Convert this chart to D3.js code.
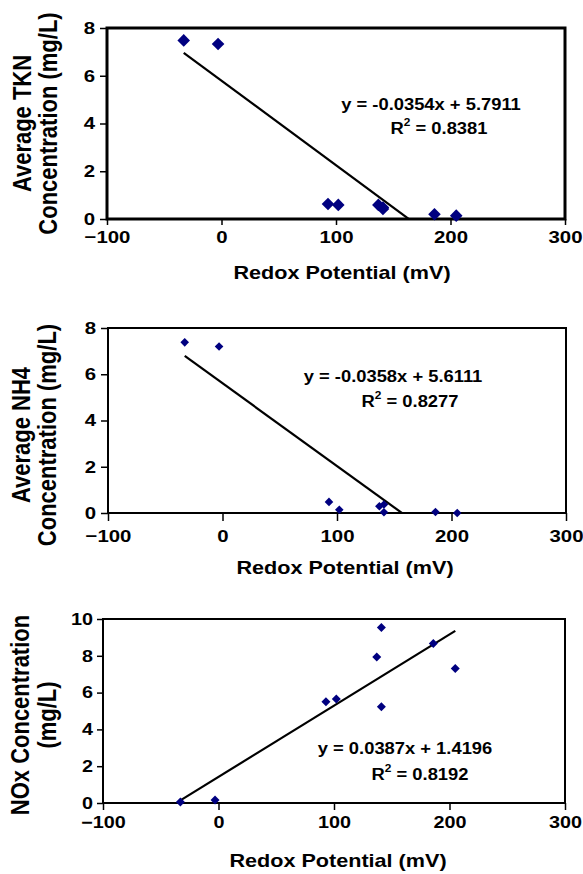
<!DOCTYPE html>
<html>
<head>
<meta charset="utf-8">
<script src="https://cdn.jsdelivr.net/npm/d3@7"></script>
<style>
body { margin: 0; background: #fff; }
svg text { font-family: "Liberation Sans", Arial, sans-serif; font-weight: bold; fill: #000; }
</style>
</head>
<body>
<svg id="chart" width="583" height="874"></svg>
<script>
// values
var redox = [-33, -3, 93, 102, 137, 141, 141, 186, 205];
var tkn = [7.48, 7.33, 0.63, 0.59, 0.59, 0.48, 0.42, 0.20, 0.14];
var nh4 = [7.38, 7.20, 0.48, 0.14, 0.29, 0.37, 0.03, 0.04, 0.00];
var nox = [0.05, 0.16, 5.50, 5.65, 7.93, 9.54, 5.23, 8.67, 7.31];

var xTicks = [-100, 0, 100, 200, 300];
var yTicks8 = [0, 2, 4, 6, 8];
var yTicks10 = [0, 2, 4, 6, 8, 10];

var slopes = [-0.0354, -0.0358, 0.0387];
var intercepts = [5.7911, 5.6111, 1.4196];
var eqLabels = ['y = -0.0354x + 5.7911', 'y = -0.0358x + 5.6111', 'y = 0.0387x + 1.4196'];
var r2Labels = ['0.8381', '0.8277', '0.8192'];
var yTitles = [['Average TKN', 'Concentration (mg/L)'],
               ['Average NH4', 'Concentration (mg/L)'],
               ['NOx Concentration', '(mg/L)']];
var xTitle = 'Redox Potential (mV)';

var svg = d3.select('#chart');
var navy = '#000080';

// layout of each panel (pixels)
var panels = [
    {ys: tkn, ticks: yTicks8, ymax: 8, l: 107, r: 565, t: 28, b: 219, border: 3,
     xtick: 6, xpad: 6, ytick: 7, ypad: 5, mark: 6.3, tickFont: 17,
     eq: [431, 110], r2: [439, 134], xt: [342, 279], yt: [31, 57, 123.5]},
    {ys: nh4, ticks: yTicks8, ymax: 8, l: 108, r: 566, t: 328, b: 513, border: 2,
     xtick: 8, xpad: 9, ytick: 7, ypad: 5, mark: 4.3, tickFont: 17,
     eq: [393, 382], r2: [410, 407], xt: [345, 574], yt: [30, 56, 435]},
    {ys: nox, ticks: yTicks10, ymax: 10, l: 103, r: 565, t: 619, b: 803, border: 2,
     xtick: 7, xpad: 6, ytick: 6, ypad: 4, mark: 4.5, tickFont: 16.5,
     eq: [405, 754], r2: [420, 780], xt: [338, 867], yt: [29, 56, 715]}
];

panels.forEach(function(p, i){
    var g = svg.append('g').attr('class', 'panel');

    var x = d3.scaleLinear().domain([-100, 300]).range([p.l, p.r]);
    var y = d3.scaleLinear().domain([0, p.ymax]).range([p.b, p.t]);

    // plot box
    g.append('rect')
        .attr('x', p.l).attr('y', p.t)
        .attr('width', p.r - p.l).attr('height', p.b - p.t)
        .attr('fill', 'none')
        .attr('stroke', '#000')
        .attr('stroke-width', p.border);

    // axes
    var xAxis = g.append('g')
        .attr('transform', 'translate(0,' + p.b + ')')
        .call(d3.axisBottom(x).tickValues(xTicks).tickSize(p.xtick).tickPadding(p.xpad));
    var yAxis = g.append('g')
        .attr('transform', 'translate(' + p.l + ',0)')
        .call(d3.axisLeft(y).tickValues(p.ticks).tickSize(p.ytick).tickPadding(p.ypad));

    [xAxis, yAxis].forEach(function(a){
        a.select('.domain').remove();
        a.selectAll('line').attr('stroke', '#000').attr('stroke-width', 1.5);
        a.selectAll('text')
            .style('font-size', p.tickFont + 'px')
            .attr('transform', 'scale(1.2,1)');
    });
    yAxis.selectAll('text').attr('x', -(p.ytick + p.ypad) / 1.2);

    // trend line, clipped to the plot area
    g.append('clipPath').attr('id', 'clip' + i)
        .append('rect')
        .attr('x', p.l).attr('y', p.t)
        .attr('width', p.r - p.l).attr('height', p.b - p.t);

    var xExt = d3.extent(redox);
    var trend = xExt.map(function(v){ return [v, slopes[i] * v + intercepts[i]]; });
    g.append('path')
        .datum(trend)
        .attr('clip-path', 'url(#clip' + i + ')')
        .attr('fill', 'none')
        .attr('stroke', '#000')
        .attr('stroke-width', 2.2)
        .attr('d', d3.line().x(function(d){ return x(d[0]); }).y(function(d){ return y(d[1]); }));

    // diamond markers
    var sym = d3.symbol().type(d3.symbolSquare).size(2 * p.mark * p.mark);
    g.selectAll('.pt')
        .data(redox.map(function(v, k){ return [v, p.ys[k]]; }))
        .enter()
        .append('path')
        .attr('class', 'pt')
        .attr('d', sym)
        .attr('fill', navy)
        .attr('transform', function(d){
            return 'translate(' + x(d[0]) + ',' + y(d[1]) + ') rotate(45)';
        });

    // equation and R squared
    g.append('text')
        .attr('text-anchor', 'middle')
        .attr('transform', 'translate(' + p.eq[0] + ',' + p.eq[1] + ') scale(1.08,1)')
        .style('font-size', '17px')
        .text(eqLabels[i]);

    var r2 = g.append('text')
        .attr('text-anchor', 'middle')
        .attr('transform', 'translate(' + p.r2[0] + ',' + p.r2[1] + ') scale(1.08,1)')
        .style('font-size', '17px');
    r2.append('tspan').text('R');
    r2.append('tspan').attr('dy', -8).style('font-size', '11px').text('2');
    r2.append('tspan').attr('dy', 8).text(' = ' + r2Labels[i]);

    // axis titles
    g.append('text')
        .attr('text-anchor', 'middle')
        .attr('transform', 'translate(' + p.xt[0] + ',' + p.xt[1] + ') scale(1.2,1)')
        .style('font-size', '18px')
        .text(xTitle);

    yTitles[i].forEach(function(line, k){
        g.append('text')
            .attr('text-anchor', 'middle')
            .attr('transform', 'translate(' + p.yt[k] + ',' + p.yt[2] + ') scale(1.2,1) rotate(-90)')
            .style('font-size', '22px')
            .text(line);
    });
});
</script>
</body>
</html>
